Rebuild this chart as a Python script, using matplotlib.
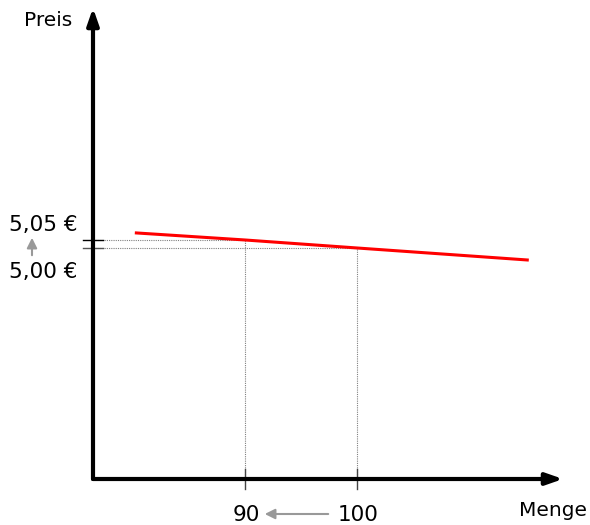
import matplotlib.pyplot as plt

# Nachfragekurve (Menge, Preis)
menge = [80.3, 90, 100, 115.2]
preis = [5.094, 5.05, 5.00, 4.925]

# markierte Punkte
tick_menge = [90, 100]
tick_preis = [5.05, 5.00]
tick_preis_labels = ['5,05 €', '5,00 €']

fig = plt.figure(figsize=(5.9, 5.25), dpi=100)
ax = fig.add_axes([93 / 590, 46 / 525, 470 / 590, 471 / 525])
ax.set_xlim(76.43, 118.39)
ax.set_ylim(3.556, 6.5)
ax.axis('off')

# Achsen mit Pfeilen
ax.annotate('', xy=(1, 0), xytext=(0, 0), xycoords='axes fraction',
            arrowprops=dict(arrowstyle='-|>,head_length=1.0,head_width=0.35', color='black', lw=3,
                            shrinkA=0, shrinkB=0), annotation_clip=False)
ax.annotate('', xy=(0, 1), xytext=(0, 0), xycoords='axes fraction',
            arrowprops=dict(arrowstyle='-|>,head_length=1.0,head_width=0.35', color='black', lw=3,
                            shrinkA=0, shrinkB=0), annotation_clip=False)

# Hilfslinien (gepunktet)
for q, p in zip(tick_menge, tick_preis):
    ax.plot([76.43, q], [p, p], color='gray', lw=0.8, ls=(0, (1, 1)), zorder=1)
    ax.plot([q, q], [3.556, p], color='gray', lw=0.8, ls=(0, (1, 1)), zorder=1)

# kleine Striche an den Achsen
dx = 10 / 11.2 * 1.0
dy = 10 / 160 * 1.0
for p, c in zip(tick_preis, ['black', '#555555']):
    ax.plot([76.43 - dx, 76.43 + dx], [p, p], color=c, lw=1, clip_on=False)
for q in tick_menge:
    ax.plot([q, q], [3.556 - dy, 3.556 + dy], color='#444444', lw=1, clip_on=False)

# Kurve
ax.plot(menge, preis, color='red', lw=2.2, zorder=3)

# Beschriftungen
fig.text(43 / 590, 1 - 225 / 525, tick_preis_labels[0], ha='center', va='center', fontsize=15.5)
fig.text(43 / 590, 1 - 272 / 525, tick_preis_labels[1], ha='center', va='center', fontsize=15.5)
fig.text(246 / 590, 1 - 515 / 525, str(tick_menge[0]), ha='center', va='center', fontsize=15.5)
fig.text(358 / 590, 1 - 515 / 525, str(tick_menge[1]), ha='center', va='center', fontsize=15.5)
fig.text(553 / 590, 1 - 510 / 525, 'Menge', ha='center', va='center', fontsize=14.5)
fig.text(48 / 590, 1 - 20 / 525, 'Preis', ha='center', va='center', fontsize=14.5)

# graue Pfeile
fig.patches.append(plt.matplotlib.patches.FancyArrowPatch(
    (32 / 590, 1 - 258 / 525), (32 / 590, 1 - 235 / 525), transform=fig.transFigure,
    arrowstyle='-|>,head_length=6,head_width=3', color='#999999', lw=1.5))
fig.patches.append(plt.matplotlib.patches.FancyArrowPatch(
    (331 / 590, 1 - 514 / 525), (262 / 590, 1 - 514 / 525), transform=fig.transFigure,
    arrowstyle='-|>,head_length=6,head_width=3', color='#999999', lw=1.5))

fig.savefig('out.png', dpi=100)
